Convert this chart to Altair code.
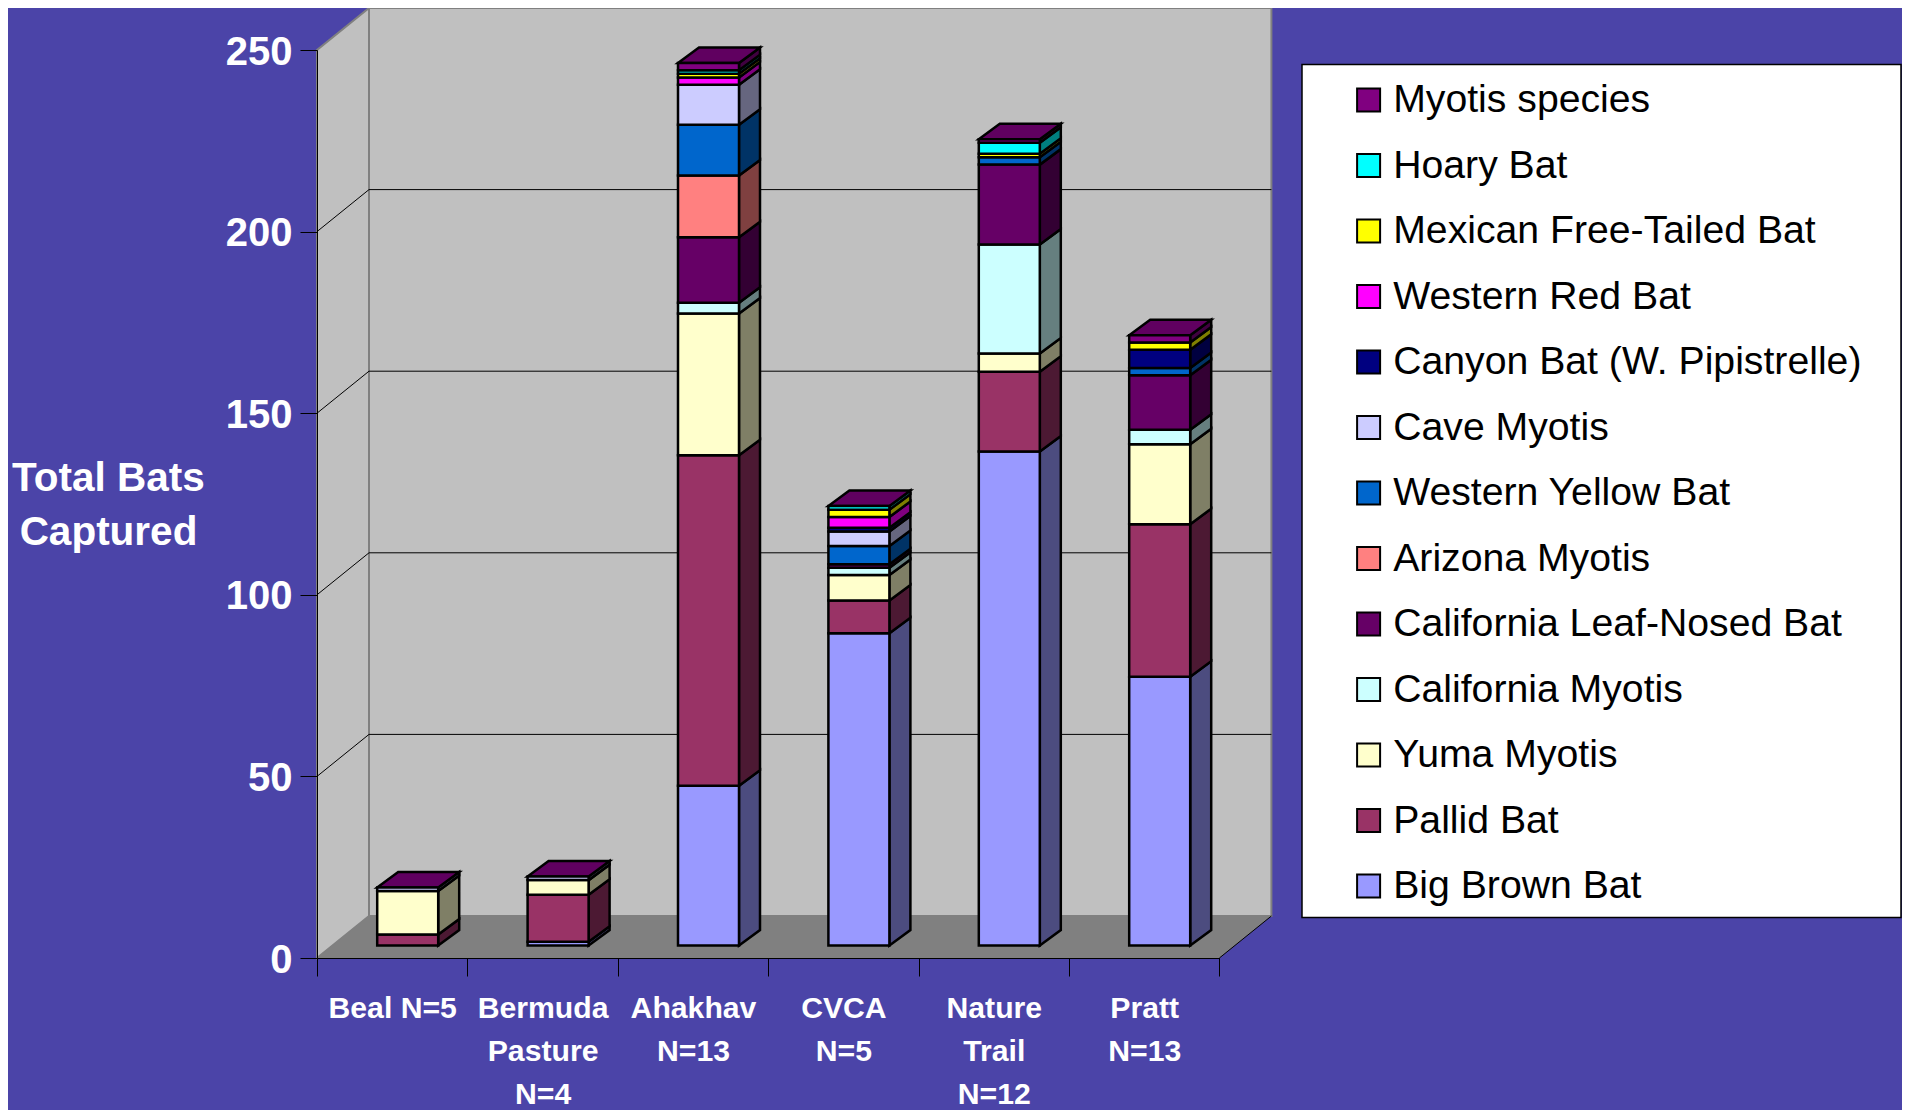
import altair as alt
import pandas as pd

# Category labels ("|" marks a line break in the axis label)
sites = ["Beal N=5", "Bermuda|Pasture|N=4", "Ahakhav|N=13", "CVCA|N=5", "Nature|Trail|N=12", "Pratt|N=13"]

# Series, bottom of the stack first, one value per site
big_brown   = [0, 1, 44, 86, 136, 74]
pallid      = [3, 13, 91, 9, 22, 42]
yuma        = [12, 4, 39, 7, 5, 22]
calif_myo   = [0, 0, 3, 2, 30, 4]
leaf_nosed  = [0, 0, 18, 1, 22, 15]
arizona     = [0, 0, 17, 0, 0, 0]
w_yellow    = [0, 0, 14, 5, 2, 2]
cave        = [1, 1, 11, 4, 0, 0]
canyon      = [0, 0, 0, 1, 0, 5]
w_red       = [0, 0, 2, 3, 0, 0]
mex_free    = [0, 0, 1, 2, 1, 2]
hoary       = [0, 0, 1, 1, 3, 0]
myotis_sp   = [0, 0, 2, 0, 1, 2]

species = ["Big Brown Bat", "Pallid Bat", "Yuma Myotis", "California Myotis", "California Leaf-Nosed Bat",
           "Arizona Myotis", "Western Yellow Bat", "Cave Myotis", "Canyon Bat (W. Pipistrelle)",
           "Western Red Bat", "Mexican Free-Tailed Bat", "Hoary Bat", "Myotis species"]
series = [big_brown, pallid, yuma, calif_myo, leaf_nosed, arizona, w_yellow, cave, canyon, w_red, mex_free, hoary, myotis_sp]
colors = ["#9999FF", "#993366", "#FFFFCC", "#CCFFFF", "#660066", "#FF8080", "#0066CC", "#CCCCFF",
          "#000080", "#FF00FF", "#FFFF00", "#00FFFF", "#800080"]
y_ticks = [0, 50, 100, 150, 200, 250]

BG = "#4B44A8"
FONT = "Liberation Sans"
W, H = 902.4, 908.0
PX_X = W / 6          # pixels per category
PX_Y = H / 250        # pixels per bat
WALL_DX, WALL_DY = 52 / PX_X, 42 / PX_Y
BAR_W_PX, BAR_OFF_X_PX, BAR_OFF_Y_PX = 61, 15.5, 12.5
BAR_W, BAR_OFF_X, BAR_OFF_Y = BAR_W_PX / PX_X, BAR_OFF_X_PX / PX_X, BAR_OFF_Y_PX / PX_Y
BAR_DX, BAR_DY = 21 / PX_X, 15.5 / PX_Y
STROKE = 2.5


def shade(hex_color, k):
    r, g, b = (int(hex_color[i:i + 2], 16) for i in (1, 3, 5))
    return "#%02X%02X%02X" % (int(r * k), int(g * k), int(b * k))


front, side, top = [], [], []
for i, site in enumerate(sites):
    cum = 0
    right = i + 0.5 + BAR_W / 2 + BAR_OFF_X
    for k, (name, vals, col) in enumerate(zip(species, series, colors)):
        v = vals[i]
        if v == 0:
            continue
        front.append({"site": site, "species": name, "count": v, "order": k})
        fid = f"{i}-{k}"
        side.append({"face": fid, "x": right, "y": cum + BAR_OFF_Y, "y2": cum + v + BAR_OFF_Y, "fill": shade(col, 0.5)})
        side.append({"face": fid, "x": right + BAR_DX, "y": cum + BAR_OFF_Y + BAR_DY, "y2": cum + v + BAR_OFF_Y + BAR_DY, "fill": shade(col, 0.5)})
        cum += v
    tv = cum + BAR_OFF_Y
    top.append({"face": i, "y": tv, "x": right - BAR_W, "x2": right})
    top.append({"face": i, "y": tv + BAR_DY, "x": right - BAR_W + BAR_DX, "x2": right + BAR_DX})

front_df, side_df, top_df = pd.DataFrame(front), pd.DataFrame(side), pd.DataFrame(top)

x_q = alt.Scale(domain=[0, 6], nice=False, zero=False)
y_q = alt.Scale(domain=[0, 250], nice=False, zero=False)


def X(f="x"):
    return alt.X(f"{f}:Q", scale=x_q, axis=None)


def Y(f="y"):
    return alt.Y(f"{f}:Q", scale=y_q, axis=None, stack=None)


# Left wall
left_wall = alt.Chart(pd.DataFrame({"x": [0, WALL_DX], "y": [0, WALL_DY], "y2": [250, 250 + WALL_DY]})).mark_area(
    fill="#C0C0C0", stroke="#808080", strokeWidth=2, opacity=1
).encode(x=X(), y=Y(), y2="y2:Q")

# Back wall
back_wall = alt.Chart(pd.DataFrame({"x": [WALL_DX], "x2": [6 + WALL_DX], "y": [WALL_DY], "y2": [250 + WALL_DY]})).mark_rect(
    fill="#C0C0C0", stroke="#808080", strokeWidth=2
).encode(x=X(), x2="x2:Q", y=Y(), y2="y2:Q")

# Floor
floor = alt.Chart(pd.DataFrame({"y": [0, WALL_DY], "x": [0, WALL_DX], "x2": [6, 6 + WALL_DX]})).mark_area(
    fill="#808080", orient="horizontal", opacity=1
).encode(y=Y(), x=X(), x2="x2:Q")

floor_edge = alt.Chart(pd.DataFrame({"x": [6], "x2": [6 + WALL_DX], "y": [0], "y2": [WALL_DY]})).mark_rule(
    color="black", strokeWidth=1
).encode(x=X(), x2="x2:Q", y=Y(), y2="y2:Q")

# Gridlines on the back and left walls
g = [v for v in y_ticks if 0 < v < 250]
grid_back = alt.Chart(pd.DataFrame({"x": [WALL_DX] * len(g), "x2": [6 + WALL_DX] * len(g),
                                    "y": [v + WALL_DY for v in g]})).mark_rule(color="black", strokeWidth=1).encode(
    x=X(), x2="x2:Q", y=Y())
grid_left = alt.Chart(pd.DataFrame({"x": [0] * len(g), "x2": [WALL_DX] * len(g), "y": g,
                                    "y2": [v + WALL_DY for v in g]})).mark_rule(color="black", strokeWidth=1).encode(
    x=X(), x2="x2:Q", y=Y(), y2="y2:Q")

# Legend box
legend_box = alt.Chart(pd.DataFrame({"a": [0]})).mark_rect(fill="white", stroke="black", strokeWidth=1.5).encode(
    x=alt.value(985), x2=alt.value(1584), y=alt.value(14.5), y2=alt.value(867.5))

# Side and top faces of the bars
sides = alt.Chart(side_df).mark_area(stroke="black", strokeWidth=STROKE, opacity=1).encode(
    x=X(), y=Y(), y2="y2:Q", fill=alt.Fill("fill:N", scale=None), detail="face:N")
tops = alt.Chart(top_df).mark_area(stroke="black", strokeWidth=STROKE, fill=shade("#800080", 0.75), orient="horizontal", opacity=1).encode(
    y=Y(), x=X(), x2="x2:Q", detail="face:N")

# Front faces (stacked bars) with the category axis and the legend
bars = alt.Chart(front_df).mark_bar(
    width=BAR_W_PX, xOffset=BAR_OFF_X_PX, yOffset=-BAR_OFF_Y_PX, stroke="black", strokeWidth=STROKE, opacity=1
).encode(
    x=alt.X("site:N", sort=sites, scale=alt.Scale(domain=sites, paddingInner=0, paddingOuter=0), title=None,
            axis=alt.Axis(tickBand="extent", labelExpr="split(datum.label, '|')", labelAngle=0, labelFont=FONT,
                          labelFontWeight="bold", labelFontSize=30.2, labelColor="white", labelLineHeight=43,
                          labelLimit=400, labelOverlap=False, labelPadding=17, tickSize=18, tickColor="black",
                          tickWidth=1, domainColor="black", domainWidth=1, grid=False, zindex=1, labelBaseline="top")),
    y=alt.Y("count:Q", stack="zero", scale=y_q,
            axis=alt.Axis(values=y_ticks, labelFont=FONT, labelFontWeight="bold", labelFontSize=40, labelColor="white",
                          labelPadding=8, labelOffset=2, tickSize=17, tickColor="black", tickWidth=1, domainColor="black",
                          domainWidth=1, grid=False, zindex=1,
                          title=["Total Bats", "Captured"], titleFont=FONT, titleFontWeight="bold", titleFontSize=40.5,
                          titleColor="white", titleAngle=0, titleAlign="center", titleBaseline="middle",
                          titleX=-209, titleY=428.5, titleLineHeight=53.6)),
    color=alt.Color("species:N", sort=species[::-1],
                    scale=alt.Scale(domain=species[::-1], range=colors[::-1]),
                    legend=alt.Legend(orient="none", legendX=1032, legendY=30.5, title=None, symbolType="square",
                                      symbolSize=529, symbolStrokeColor="black", symbolStrokeWidth=2, symbolOpacity=1,
                                      labelFont=FONT, labelFontSize=39.2, labelColor="black", labelLimit=800,
                                      rowPadding=25.5, labelOffset=5, padding=0, columns=1)),
    order=alt.Order("order:Q"),
)

chart = alt.layer(left_wall, back_wall, floor, floor_edge, grid_back, grid_left, legend_box, sides, tops, bars).resolve_scale(
    x="independent"
).resolve_axis(
    y="independent"
).properties(
    width=W, height=H, background=BG,
    autosize=alt.AutoSizeParams(type="none"),
    padding={"left": 309, "top": 42, "right": 682.6, "bottom": 152},
).configure_view(stroke=None)

chart.save("out.html", embed_options={"renderer": "svg", "actions": False})
